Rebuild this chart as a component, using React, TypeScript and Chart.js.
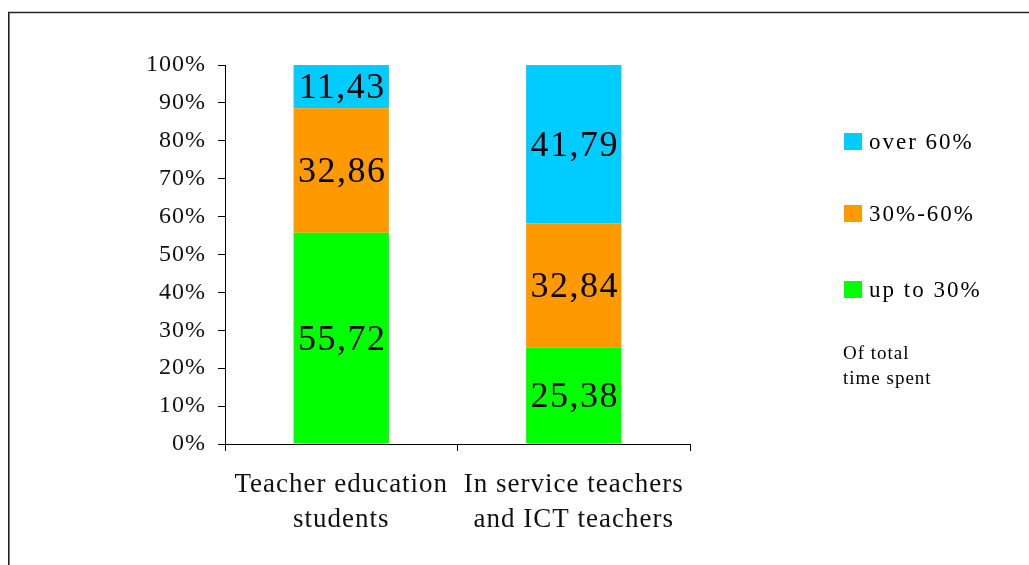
import React, { useEffect, useRef } from "react";
import { Chart, registerables } from "chart.js";

Chart.register(...registerables);

const categories: string[][] = [
  ["Teacher education", "students"],
  ["In service teachers", "and ICT teachers"],
];
const upTo30: number[] = [55.72, 25.38];
const from30to60: number[] = [32.86, 32.84];
const over60: number[] = [11.43, 41.79];
const yTicks: number[] = [0, 10, 20, 30, 40, 50, 60, 70, 80, 90, 100];
const legendNote: string[] = ["Of total", "time spent"];

const FONT = "'Liberation Serif', 'Times New Roman', serif";

const spacingPlugin = {
  id: "spacing",
  beforeUpdate(chart: any) {
    chart.ctx.letterSpacing = "1px";
  },
  beforeDraw(chart: any) {
    const ctx = chart.ctx;
    ctx.letterSpacing = "1px";
    ctx.save();
    ctx.strokeStyle = "#222";
    ctx.lineWidth = 1.6;
    ctx.beginPath();
    ctx.moveTo(8.8, 600);
    ctx.lineTo(8.8, 12.5);
    ctx.lineTo(1100, 12.5);
    ctx.stroke();
    ctx.restore();
  },
};

const labelPlugin = {
  id: "barLabels",
  afterDatasetsDraw(chart: any) {
    const ctx = chart.ctx;
    ctx.save();
    ctx.letterSpacing = "1.5px";
    ctx.font = `36px ${FONT}`;
    ctx.fillStyle = "#000";
    ctx.textAlign = "center";
    ctx.textBaseline = "middle";
    chart.data.datasets.forEach((ds: any, di: number) => {
      const meta = chart.getDatasetMeta(di);
      meta.data.forEach((el: any, i: number) => {
        const v = ds.data[i];
        const cy = (el.y + el.base) / 2 + 2;
        ctx.fillText(v.toFixed(2).replace(".", ","), el.x + 1, cy);
      });
    });
    ctx.restore();
  },
};

const legendPlugin = {
  id: "sideLegend",
  afterDraw(chart: any) {
    const ctx = chart.ctx;
    ctx.save();
    ctx.letterSpacing = "2px";
    const items = [...chart.data.datasets].reverse();
    const ys = [142, 214, 290];
    items.forEach((ds: any, i: number) => {
      ctx.fillStyle = ds.backgroundColor;
      ctx.fillRect(844, ys[i] - 9, 18, 17);
      ctx.fillStyle = "#000";
      ctx.font = `23px ${FONT}`;
      ctx.textAlign = "left";
      ctx.textBaseline = "middle";
      ctx.fillText(ds.label, 869, ys[i] + 1);
    });
    ctx.letterSpacing = "1px";
    ctx.font = `19px ${FONT}`;
    legendNote.forEach((t, i) => {
      ctx.fillText(t, 843, 354 + i * 25);
    });
    ctx.restore();
  },
};

export default function App() {
  const ref = useRef<HTMLCanvasElement | null>(null);
  useEffect(() => {
    if (!ref.current) return;
    const chart = new Chart(ref.current, {
      type: "bar",
      data: {
        labels: categories,
        datasets: [
          { label: "up to 30%", data: upTo30, backgroundColor: "#00FF00", categoryPercentage: 0.82, barPercentage: 0.5 },
          { label: "30%-60%", data: from30to60, backgroundColor: "#FF9900", categoryPercentage: 0.82, barPercentage: 0.5 },
          { label: "over 60%", data: over60, backgroundColor: "#00CCFF", categoryPercentage: 0.82, barPercentage: 0.5 },
        ],
      },
      options: {
        responsive: false,
        animation: false,
        devicePixelRatio: 1,
        layout: { padding: { left: 125, right: 339, top: 65, bottom: 0 } },
        plugins: { legend: { display: false }, tooltip: { enabled: false } },
        scales: {
          x: {
            stacked: true,
            grid: { drawOnChartArea: false, drawTicks: true, tickLength: 7, color: "#000", offset: true },
            border: { display: true, color: "#000", width: 1 },
            ticks: { color: "#111", font: { family: FONT, size: 27, lineHeight: 1.3 }, padding: 16, maxRotation: 0 },
            afterFit: (s: any) => { s.height = 121; },
          },
          y: {
            stacked: true,
            min: 0,
            max: 100,
            afterBuildTicks: (s: any) => { s.ticks = yTicks.map((v) => ({ value: v })); },
            grid: { drawOnChartArea: false, drawTicks: true, tickLength: 7, color: "#000" },
            border: { display: true, color: "#000", width: 1 },
            ticks: { color: "#111", font: { family: FONT, size: 24 }, padding: 12, callback: (v: any) => `${v}%` },
            afterFit: (s: any) => { s.width = 100; },
          },
        },
      },
      plugins: [spacingPlugin, labelPlugin, legendPlugin],
    });
    return () => chart.destroy();
  }, []);
  return (
    <div style={{ position: "fixed", left: 0, top: 0, width: 1029, height: 565, background: "#fff" }}>
      <canvas ref={ref} width={1029} height={565} />
    </div>
  );
}
